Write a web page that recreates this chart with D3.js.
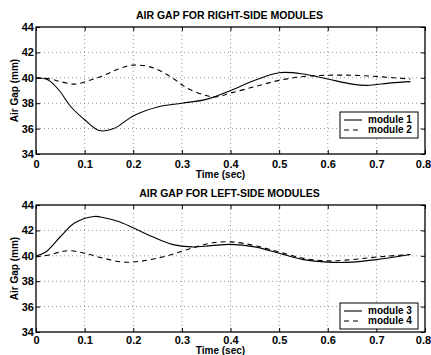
<!DOCTYPE html>
<html>
<head>
<meta charset="utf-8">
<script src="https://cdn.jsdelivr.net/npm/d3@7"></script>
<style>
body { margin: 0; background: #fff; }
text { font-family: "Liberation Sans", Arial, sans-serif; font-weight: bold; fill: #000; }
</style>
</head>
<body>
<script>
// time samples (sec)
var t1 = [0, 0.02, 0.03, 0.05, 0.07, 0.1, 0.13, 0.16, 0.2, 0.25, 0.3, 0.35, 0.4, 0.45, 0.5, 0.55, 0.6, 0.65, 0.68, 0.73, 0.77];
var module1 = [40, 39.9, 39.7, 38.9, 37.8, 36.7, 35.85, 36.0, 37.0, 37.7, 38.0, 38.3, 39.0, 39.8, 40.4, 40.3, 39.9, 39.5, 39.4, 39.6, 39.7];
var t2 = [0, 0.03, 0.05, 0.08, 0.11, 0.14, 0.17, 0.2, 0.24, 0.28, 0.31, 0.35, 0.37, 0.4, 0.45, 0.5, 0.55, 0.6, 0.65, 0.7, 0.77];
var module2 = [40, 39.9, 39.7, 39.5, 39.8, 40.2, 40.7, 41.0, 40.8, 40.0, 39.2, 38.6, 38.5, 38.8, 39.3, 39.8, 40.1, 40.2, 40.2, 40.1, 39.9];
var t3 = [0, 0.02, 0.05, 0.08, 0.12, 0.14, 0.17, 0.2, 0.24, 0.28, 0.32, 0.36, 0.4, 0.45, 0.5, 0.55, 0.6, 0.65, 0.7, 0.77];
var module3 = [40, 40.3, 41.5, 42.6, 43.1, 43.0, 42.7, 42.2, 41.5, 40.9, 40.7, 40.8, 40.9, 40.7, 40.2, 39.7, 39.5, 39.5, 39.7, 40.1];
var t4 = [0, 0.03, 0.05, 0.07, 0.1, 0.14, 0.18, 0.22, 0.27, 0.32, 0.36, 0.4, 0.45, 0.5, 0.55, 0.6, 0.65, 0.7, 0.77];
var module4 = [39.9, 40.1, 40.3, 40.4, 40.2, 39.8, 39.5, 39.6, 40.0, 40.6, 41.0, 41.1, 40.8, 40.3, 39.8, 39.6, 39.7, 39.9, 40.1];

var xTicks = [0, 0.1, 0.2, 0.3, 0.4, 0.5, 0.6, 0.7, 0.8];
var yTicks = [34, 36, 38, 40, 42, 44];

var svg = d3.select("body").append("svg")
	.attr("width", 431)
	.attr("height", 355);

function panel(top, title, sA, sB, labelA, labelB, legendTop, pad, xlabY) {
	var left = 36, right = 425, bottom = top + 127;
	var x = d3.scaleLinear().domain([0, 0.8]).range([left, right]);
	var y = d3.scaleLinear().domain([34, 44]).range([bottom, top]);
	var g = svg.append("g");

	// dotted grid
	g.selectAll(".gx").data(xTicks.slice(1, -1)).enter().append("line")
		.attr("x1", function(d) { return x(d); }).attr("x2", function(d) { return x(d); })
		.attr("y1", top).attr("y2", bottom)
		.attr("stroke", "#777").attr("stroke-width", 0.8).attr("stroke-dasharray", "1,3");
	g.selectAll(".gy").data(yTicks.slice(1, -1)).enter().append("line")
		.attr("y1", function(d) { return y(d); }).attr("y2", function(d) { return y(d); })
		.attr("x1", left).attr("x2", right)
		.attr("stroke", "#777").attr("stroke-width", 0.8).attr("stroke-dasharray", "1,3");

	// axes with inward ticks
	var ax = g.append("g").attr("transform", "translate(0," + bottom + ")")
		.call(d3.axisBottom(x).tickValues(xTicks).tickSize(-4).tickPadding(pad).tickFormat(d3.format("")));
	var ay = g.append("g").attr("transform", "translate(" + left + ",0)")
		.call(d3.axisLeft(y).tickValues(yTicks).tickSize(-4).tickPadding(2).tickFormat(d3.format("d")));
	g.append("g").attr("transform", "translate(0," + top + ")")
		.call(d3.axisTop(x).tickValues(xTicks).tickSize(-4).tickFormat(""));
	g.append("g").attr("transform", "translate(" + right + ",0)")
		.call(d3.axisRight(y).tickValues(yTicks).tickSize(-4).tickFormat(""));
	g.selectAll(".domain").remove();
	g.selectAll(".tick line").attr("stroke", "#000");
	ax.selectAll("text").style("font-size", "11px")
		.attr("dx", function(d) { return d === 0.8 ? "-2" : null; });
	ay.selectAll("text").style("font-size", "11px");

	g.append("rect").attr("x", left).attr("y", top)
		.attr("width", right - left).attr("height", bottom - top)
		.attr("fill", "none").attr("stroke", "#000").attr("stroke-width", 1.3);

	var line = d3.line().curve(d3.curveCatmullRom.alpha(0.5))
		.x(function(d) { return x(d[0]); }).y(function(d) { return y(d[1]); });
	g.append("path").datum(sA).attr("d", line)
		.attr("fill", "none").attr("stroke", "#000").attr("stroke-width", 1.1);
	g.append("path").datum(sB).attr("d", line)
		.attr("fill", "none").attr("stroke", "#000").attr("stroke-width", 1.1).attr("stroke-dasharray", "5,4");

	// labels
	g.append("text").attr("x", (left + right) / 2 - 1).attr("y", top - 8)
		.style("text-anchor", "middle").style("font-size", "10.5px").text(title);
	g.append("text").attr("x", (left + right) / 2 - 10).attr("y", xlabY)
		.style("text-anchor", "middle").style("font-size", "10px").text("Time (sec)");
	g.append("text").attr("transform", "rotate(-90)")
		.attr("x", -(top + bottom) / 2).attr("y", 18)
		.style("text-anchor", "middle").style("font-size", "10px").text("Air Gap (mm)");

	// legend
	var lx = 340, lw = 78, lh = 26;
	var lg = g.append("g");
	lg.append("rect").attr("x", lx).attr("y", legendTop).attr("width", lw).attr("height", lh)
		.attr("fill", "#fff").attr("stroke", "#000").attr("stroke-width", 1);
	lg.append("line").attr("x1", lx + 4).attr("x2", lx + 22).attr("y1", legendTop + 8).attr("y2", legendTop + 8)
		.attr("stroke", "#000").attr("stroke-width", 1.1);
	lg.append("line").attr("x1", lx + 4).attr("x2", lx + 22).attr("y1", legendTop + 18).attr("y2", legendTop + 18)
		.attr("stroke", "#000").attr("stroke-width", 1.1).attr("stroke-dasharray", "5,4");
	lg.append("text").attr("x", lx + 28).attr("y", legendTop + 11).style("font-size", "10px").text(labelA);
	lg.append("text").attr("x", lx + 28).attr("y", legendTop + 21).style("font-size", "10px").text(labelB);
}

panel(27, "AIR GAP FOR RIGHT-SIDE MODULES", d3.zip(t1, module1), d3.zip(t2, module2), "module 1", "module 2", 112, 6, 178);
panel(205, "AIR GAP FOR LEFT-SIDE MODULES", d3.zip(t3, module3), d3.zip(t4, module4), "module 3", "module 4", 303, 4, 354);
</script>
</body>
</html>
